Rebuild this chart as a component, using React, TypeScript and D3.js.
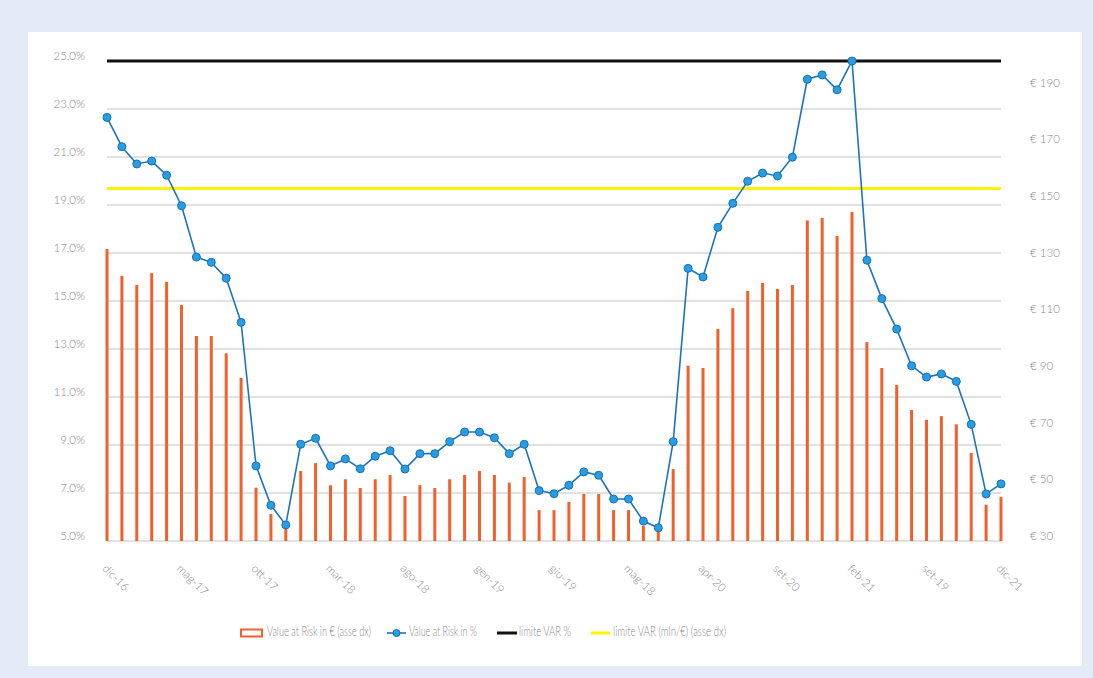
import React from 'react'
import * as d3 from 'd3'

// Monthly values dic-16 .. dic-21 (61 points)
const varPct = [
  22.65, 21.43, 20.71, 20.83, 20.24, 18.97, 16.83, 16.61, 15.95, 14.11,
  8.13, 6.49, 5.67, 9.03, 9.28, 8.13, 8.42, 8.01, 8.53, 8.76,
  8.0, 8.64, 8.64, 9.14, 9.54, 9.54, 9.3, 8.64, 9.03, 7.1,
  6.97, 7.32, 7.88, 7.74, 6.75, 6.75, 5.83, 5.55, 9.14, 16.36,
  16.0, 18.07, 19.07, 19.99, 20.33, 20.21, 20.99, 24.24, 24.42, 23.8,
  25.0, 16.7, 15.1, 13.83, 12.3, 11.83, 11.96, 11.65, 9.86, 6.96,
  7.38,
]

const varEur = [
  133.1, 123.6, 120.4, 124.6, 121.5, 113.3, 102.4, 102.4, 96.3, 87.6,
  48.8, 39.5, 34.6, 54.7, 57.5, 49.7, 51.8, 48.7, 51.8, 53.3,
  45.9, 49.7, 48.7, 51.8, 53.3, 54.7, 53.3, 50.6, 52.6, 40.9,
  40.9, 43.8, 46.6, 46.6, 40.9, 40.9, 35.4, 33.3, 55.4, 91.9,
  91.1, 104.9, 112.2, 118.3, 121.1, 119.0, 120.4, 143.2, 144.1, 137.7,
  146.2, 100.2, 91.1, 85.1, 76.3, 72.8, 74.1, 71.2, 61.1, 42.8,
  45.6,
]

const xTickLabels = [
  'dic-16', 'mag-17', 'ott-17', 'mar-18', 'ago-18', 'gen-19', 'giu-19',
  'mag-18', 'apr-20', 'set-20', 'feb-21', 'set-19', 'dic-21',
]

const leftTicks = [5, 7, 9, 11, 13, 15, 17, 19, 21, 23, 25]
const rightTicks = [30, 50, 70, 90, 110, 130, 150, 170, 190]

const limitPct = 25
const limitEur = 154.5

const W = 1093
const H = 678

export default function App() {
  const idx = d3.range(varPct.length)
  const x = d3.scalePoint<number>().domain(idx).range([107, 1001])
  const yL = d3.scaleLinear().domain([5, 25]).range([541, 61])
  const yR = d3.scaleLinear().domain([30, 199.5]).range([541, 61])
  const [x0, x1] = x.range()

  const line = d3.line<number>()
    .x((d, i) => x(i) as number)
    .y(d => yL(d))

  const fmtPct = (v: number) => d3.format('.1f')(v).replace('.', ',') + '%'
  const font = 'Lato, "Open Sans", sans-serif'
  const txt = '#8a8a8a'

  return (
    <svg width={W} height={H} style={{ position: 'absolute', left: 0, top: 0 }} fontFamily={font}>
      <rect width={W} height={H} fill="#e4eaf6" />
      <rect x={28} y={32} width={1054} height={634} fill="#ffffff" />

      {/* grid */}
      {leftTicks.map(t => (
        <line key={t} x1={x0} x2={x1} y1={yL(t)} y2={yL(t)} stroke="#c4c4c4" strokeWidth={1.2} />
      ))}

      {/* left axis */}
      {leftTicks.map(t => (
        <text key={t} x={85} y={yL(t) - 4} fill={txt} fontSize={11.5} fontWeight={300}
          textAnchor="end" dominantBaseline="middle">{fmtPct(t)}</text>
      ))}

      {/* right axis */}
      {rightTicks.map(t => (
        <text key={t} x={1030} y={yR(t) - 4} fill={txt} fontSize={11.5} fontWeight={300}
          dominantBaseline="middle">{'€ ' + t}</text>
      ))}

      {/* bars */}
      {varEur.map((v, i) => (
        <rect key={i} x={(x(i) as number) - 1.5} y={yR(v)} width={3} height={yR(30) - yR(v)} fill="#f2602b" />
      ))}

      {/* limits */}
      <line x1={x0} x2={x1} y1={yR(limitEur)} y2={yR(limitEur)} stroke="#fff200" strokeWidth={3} />
      <line x1={x0} x2={x1} y1={yL(limitPct)} y2={yL(limitPct)} stroke="#111111" strokeWidth={3} />

      {/* VaR % line */}
      <path d={line(varPct) ?? ''} fill="none" stroke="#1c73c2" strokeWidth={1.6} />
      {varPct.map((v, i) => (
        <circle key={i} cx={x(i) as number} cy={yL(v)} r={4} fill="#269ee0" stroke="#1a6fba" strokeWidth={1} />
      ))}

      {/* x labels */}
      {xTickLabels.map((l, k) => (
        <text key={l + k} transform={`translate(${(x(k * 5) as number) + 1},${563}) rotate(45)`}
          fill={txt} fontSize={11.5} fontWeight={300} dominantBaseline="hanging">{l}</text>
      ))}

      {/* legend */}
      <g fontSize={13.5} fill={txt} fontWeight={300}>
        <rect x={241} y={629.5} width={21} height={7} fill="#fff" stroke="#f2602b" strokeWidth={2} />
        <text x={267} y={633} dominantBaseline="middle" textLength={104} lengthAdjust="spacingAndGlyphs">Value at Risk in € (asse dx)</text>
        <line x1={387} x2={406} y1={633} y2={633} stroke="#1c73c2" strokeWidth={1.6} />
        <circle cx={396.5} cy={633} r={3.5} fill="#269ee0" stroke="#1a6fba" />
        <text x={409} y={633} dominantBaseline="middle" textLength={68} lengthAdjust="spacingAndGlyphs">Value at Risk in %</text>
        <line x1={497} x2={517} y1={633} y2={633} stroke="#111" strokeWidth={3} />
        <text x={519} y={633} dominantBaseline="middle" textLength={52} lengthAdjust="spacingAndGlyphs">limite VAR %</text>
        <line x1={591} x2={610} y1={633} y2={633} stroke="#fff200" strokeWidth={3} />
        <text x={613} y={633} dominantBaseline="middle" textLength={113} lengthAdjust="spacingAndGlyphs">limite VAR (mln/€) (asse dx)</text>
      </g>
    </svg>
  )
}
